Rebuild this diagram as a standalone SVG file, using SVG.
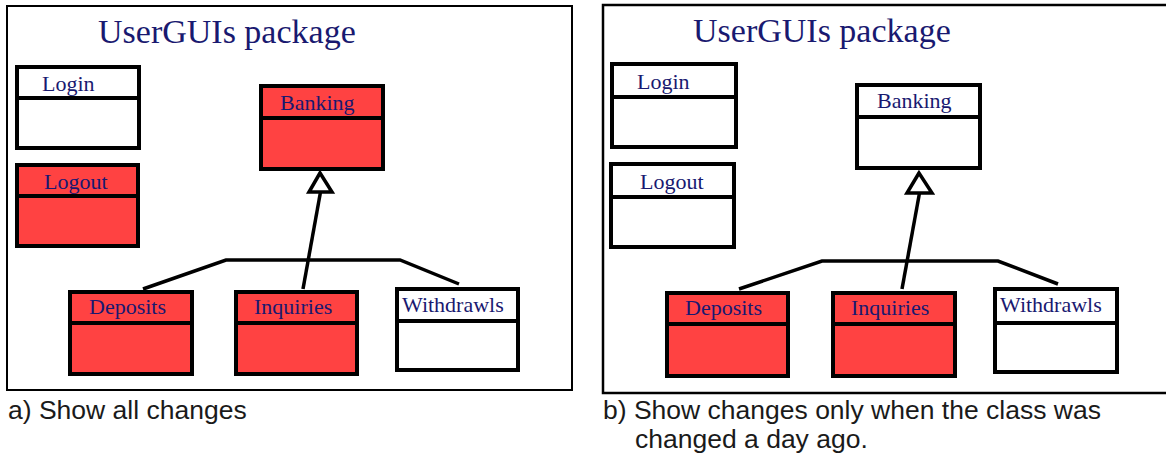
<svg xmlns="http://www.w3.org/2000/svg" width="1166" height="454" viewBox="0 0 1166 454">
<style>
.frame{fill:none;stroke:#000;stroke-width:2}
.cls{stroke:#000;stroke-width:4}
.red{fill:#ff4242}
.white{fill:#fff}
.div{stroke:#000;stroke-width:4}
.lbl{font-family:"Liberation Serif","Times New Roman",serif;font-size:22px;fill:#191970}
.title{font-family:"Liberation Serif","Times New Roman",serif;font-size:34px;fill:#191970}
.cap{font-family:"Liberation Sans",Arial,sans-serif;font-size:26.5px;fill:#1a1a1a}
.conn{fill:none;stroke:#000;stroke-width:3.5;stroke-linejoin:miter}
.tri{fill:#fff;stroke:#000;stroke-width:3.5;stroke-linejoin:miter}
</style>
<rect width="1166" height="454" fill="#fff"/>

<!-- Panel a -->
<g id="panel-a">
<rect class="frame" x="7" y="6" width="565" height="384"/>
<text class="title" x="98" y="43">UserGUIs package</text>
</g>
<g id="a-login"><rect class="cls white" x="17" y="67" width="122" height="81"/><line class="div" x1="17" y1="98" x2="139" y2="98"/><text class="lbl" x="42" y="91">Login</text></g>
<g id="a-logout"><rect class="cls red" x="17" y="165" width="121" height="81"/><line class="div" x1="17" y1="196" x2="138" y2="196"/><text class="lbl" x="44" y="189">Logout</text></g>
<g id="a-banking"><rect class="cls red" x="261" y="86" width="122" height="83"/><line class="div" x1="261" y1="118" x2="383" y2="118"/><text class="lbl" x="280" y="110">Banking</text></g>
<g id="a-deposits"><rect class="cls red" x="70" y="292" width="122" height="82"/><line class="div" x1="70" y1="323" x2="192" y2="323"/><text class="lbl" x="89" y="314">Deposits</text></g>
<g id="a-inquiries"><rect class="cls red" x="236" y="292" width="121" height="82"/><line class="div" x1="236" y1="323" x2="357" y2="323"/><text class="lbl" x="254" y="314">Inquiries</text></g>
<g id="a-withdrawls"><rect class="cls white" x="397" y="289" width="121" height="81"/><line class="div" x1="397" y1="321" x2="518" y2="321"/><text class="lbl" x="402" y="312">Withdrawls</text></g>
<g id="a-connectors">
<polyline class="conn" points="143,289 226,260 400,260 459,284"/>
<line class="conn" x1="303" y1="289" x2="320.5" y2="192"/>
<polygon class="tri" points="320,173 309,192 332,192"/>
</g>
<text class="cap" x="8" y="419">a) Show all changes</text>

<!-- Panel b -->
<g id="panel-b">
<rect class="frame" x="603" y="5" width="575" height="388" style="stroke-width:2.5"/>
<text class="title" x="693" y="42">UserGUIs package</text>
</g>
<g id="b-login"><rect class="cls white" x="612" y="64" width="124" height="83"/><line class="div" x1="612" y1="97" x2="736" y2="97"/><text class="lbl" x="637" y="89">Login</text></g>
<g id="b-logout"><rect class="cls white" x="611" y="164" width="123" height="83"/><line class="div" x1="611" y1="197" x2="734" y2="197"/><text class="lbl" x="640" y="189">Logout</text></g>
<g id="b-banking"><rect class="cls white" x="857" y="85" width="123" height="83"/><line class="div" x1="857" y1="117" x2="980" y2="117"/><text class="lbl" x="877" y="108">Banking</text></g>
<g id="b-deposits"><rect class="cls red" x="667" y="293" width="121" height="83"/><line class="div" x1="667" y1="324" x2="788" y2="324"/><text class="lbl" x="685" y="315">Deposits</text></g>
<g id="b-inquiries"><rect class="cls red" x="833" y="293" width="122" height="83"/><line class="div" x1="833" y1="324" x2="955" y2="324"/><text class="lbl" x="851" y="315">Inquiries</text></g>
<g id="b-withdrawls"><rect class="cls white" x="995" y="289" width="122" height="83"/><line class="div" x1="995" y1="323" x2="1117" y2="323"/><text class="lbl" x="1000" y="312">Withdrawls</text></g>
<g id="b-connectors">
<polyline class="conn" points="739,289 822,261 998,261 1058,284"/>
<line class="conn" x1="902" y1="289" x2="919.5" y2="193"/>
<polygon class="tri" points="919,173 907,193 932,193"/>
</g>
<text class="cap" x="603" y="419">b) Show changes only when the class was</text>
<text class="cap" x="635" y="448">changed a day ago.</text>
</svg>
